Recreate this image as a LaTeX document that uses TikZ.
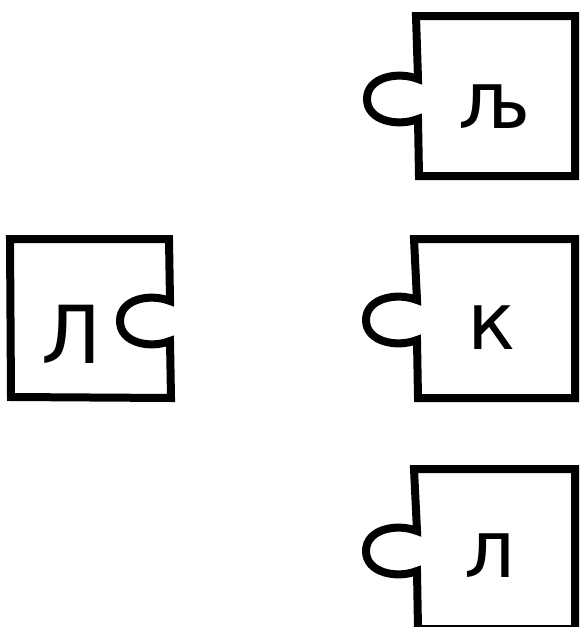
\documentclass[tikz,border=0pt]{standalone}
\usepackage{fontspec}
\newfontfamily\pzfont{DejaVu Sans}
\tikzset{
  piece/.style={draw=black, line width=8pt, line join=miter, fill=white},
  letter/.style={font=\pzfont\fontsize{80}{90}\selectfont, inner sep=0pt, anchor=center}
}
\begin{document}
\begin{tikzpicture}[x=1pt,y=-1pt]
\useasboundingbox (0,0) rectangle (579,627);
\fill[white] (0,0) rectangle (579,627);
\clip (0,0) rectangle (579,627);
% left piece with hole on right
\draw[piece] (10,239) -- (169,239) -- (170,301)
  .. controls (150,293) and (120,299) .. (120,321)
  .. controls (120,343) and (150,349) .. (170,341)
  -- (171,398) -- (11,397) -- cycle;
% top-right piece
\draw[piece] (416,16) -- (575,16) -- (575,176) -- (419,176) -- (418,119)
  .. controls (398,127) and (367,121) .. (367,99)
  .. controls (367,77) and (398,71) .. (418,79) -- cycle;
% middle-right piece
\draw[piece] (414,239) -- (575,239) -- (575,398) -- (418,398) -- (417,340)
  .. controls (397,348) and (366,342) .. (366,320)
  .. controls (366,298) and (397,292) .. (417,300) -- cycle;
% bottom-right piece
\draw[piece] (414,469) -- (575,469) -- (575,629) -- (418,629) -- (417,571)
  .. controls (397,579) and (366,573) .. (366,551)
  .. controls (366,529) and (397,523) .. (417,531) -- cycle;
\node[letter] (lL) at (72,334) {Л};
\node[letter] (lj) at (495,107) {љ};
\node[letter] (k) at (492,328) {к};
\node[letter] (l) at (490,556) {л};
\end{tikzpicture}
\end{document}
